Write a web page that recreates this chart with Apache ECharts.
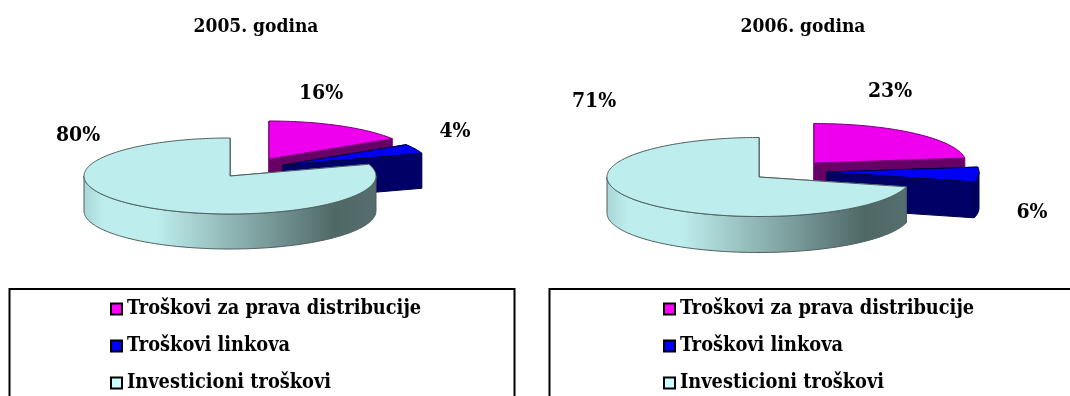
<!DOCTYPE html>
<html><head><meta charset="utf-8">
<style>html,body{margin:0;padding:0;background:#fff}#c{width:1070px;height:396px}</style>
<script src="https://cdn.jsdelivr.net/npm/echarts@6/dist/echarts.min.js"></script>
</head><body><div id="c"></div>
<script>
const categories = ['Troškovi za prava distribucije', 'Troškovi linkova', 'Investicioni troškovi'];
const years = ['2005. godina', '2006. godina'];
const values2005 = [16, 4, 80];
const values2006 = [23, 6, 71];

const FONT = '"DejaVu Serif Condensed", "DejaVu Serif", serif';
const topColors = ['#EE00EE', '#0000F5', '#BDEDED'];
const wallColors = ['#660066', '#000066', null];
const edgeColors = ['#770077', '#000044', '#4F5F5F'];
const legendColors = ['#FF00FF', '#0000FF', '#CCFFFF'];

const layouts = [
  { rx: 146, ry: 38, depth: 35,
    centers: [[269, 159], [283, 165], [230, 176]],
    labels: [[321, 94], [455, 132], [78, 136]],
    titleX: 251, frame: [9.5, 289, 505, 120], legendX: 110 },
  { rx: 152, ry: 39.5, depth: 36,
    centers: [[814, 163], [827, 172], [759, 177]],
    labels: [[890, 92], [1032, 213], [594, 102]],
    titleX: 798, frame: [549.5, 289, 530, 120], legendX: 663 }
];

function pt(c, rx, ry, pct, dy) {
  const a = pct / 100 * Math.PI * 2;
  return [c[0] + rx * Math.sin(a), c[1] - ry * Math.cos(a) + (dy || 0)];
}
function arc(c, rx, ry, from, to, dy) {
  const out = [], n = Math.max(2, Math.ceil((to - from) * 3));
  for (let i = 0; i <= n; i++) out.push(pt(c, rx, ry, from + (to - from) * i / n, dy));
  return out;
}
const wallGradient = () => new echarts.graphic.LinearGradient(0, 0, 1, 0, [
  { offset: 0, color: '#A9D6D6' }, { offset: 0.07, color: '#BDEDED' },
  { offset: 0.25, color: '#BDEDED' }, { offset: 0.86, color: '#4F6866' }, { offset: 1, color: '#566F6E' }
]);

function makeRender(L, idx) {
  return function (params, api) {
    const value = api.value(0), start = api.value(1), end = start + value;
    const c = L.centers[idx], d = L.depth, rx = L.rx, ry = L.ry;
    const kids = [];
    const wallFill = wallColors[idx] || wallGradient();
    const edge = { stroke: edgeColors[idx], lineWidth: 1 };
    const flat = wallColors[idx] || '#BDEDED';
    [start, end].forEach(p => {
      const q = pt(c, rx, ry, p);
      kids.push({ type: 'polygon', shape: { points: [c, q, [q[0], q[1] + d], [c[0], c[1] + d]] },
        style: Object.assign({ fill: flat }, edge) });
    });
    const from = Math.max(start, 25), to = Math.min(end, 75);
    if (to > from) {
      const pts = arc(c, rx, ry, from, to, 0).concat(arc(c, rx, ry, from, to, d).reverse());
      kids.push({ type: 'polygon', shape: { points: pts }, style: Object.assign({ fill: wallFill }, edge) });
    }
    kids.push({ type: 'polygon', shape: { points: [c].concat(arc(c, rx, ry, start, end, 0)) },
      style: Object.assign({ fill: topColors[idx] }, edge) });
    kids.push({ type: 'text', z2: 10, style: { text: value + '%', x: L.labels[idx][0], y: L.labels[idx][1],
      fill: '#000', font: 'bold 21px ' + FONT, textAlign: 'center', textVerticalAlign: 'middle' } });
    return { type: 'group', children: kids };
  };
}

const series = [];
[values2005, values2006].forEach((vals, ci) => {
  let acc = 0;
  vals.forEach((v, i) => {
    series.push({ type: 'custom', coordinateSystem: 'none', name: categories[i], animation: false, silent: true,
      itemStyle: { color: legendColors[i] }, z: 2 + i,
      data: [[v, acc]], renderItem: makeRender(layouts[ci], i) });
    acc += v;
  });
});

const chart = echarts.init(document.getElementById('c'), null, { renderer: 'canvas' });
chart.setOption({
  animation: false, backgroundColor: '#fff',
  title: layouts.map((L, i) => ({ text: years[i], left: L.titleX, top: 13, textAlign: 'center',
    textStyle: { fontFamily: FONT, fontWeight: 'bold', fontSize: 19, color: '#000' } })),
  legend: layouts.map(L => ({
    orient: 'vertical', left: L.legendX, top: 299, itemGap: 17, itemWidth: 11, itemHeight: 11, icon: 'rect',
    selectedMode: false, padding: 0,
    textStyle: { fontFamily: FONT, fontWeight: 'bold', fontSize: 19.8, color: '#000', padding: [0, 0, 0, 0] },
    data: categories.map((n, i) => ({ name: n, itemStyle: { color: legendColors[i], borderColor: '#000', borderWidth: 2 } }))
  })),
  graphic: layouts.map(L => ({ type: 'rect', silent: true, z: 0,
    shape: { x: L.frame[0], y: L.frame[1], width: L.frame[2], height: L.frame[3] },
    style: { fill: 'none', stroke: '#000', lineWidth: 2 } })),
  series
});
</script></body></html>
